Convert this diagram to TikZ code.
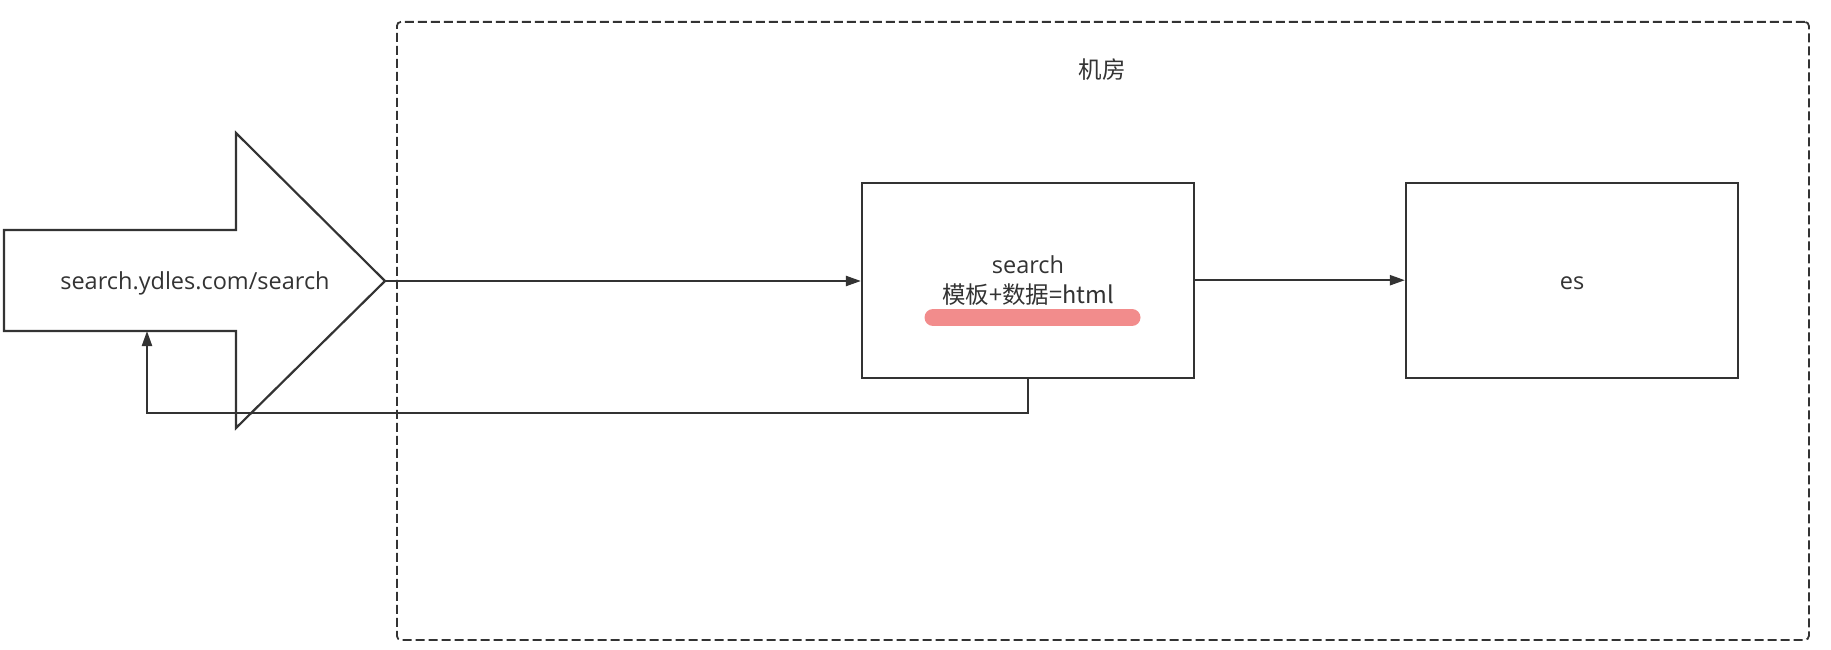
\documentclass[tikz,border=0pt]{standalone}
\usepackage{fontspec}
\setmainfont{Open Sans}
\newfontfamily\cjk{Noto Sans CJK SC}
\usetikzlibrary{arrows.meta}
\definecolor{ink}{HTML}{333333}
\definecolor{marker}{HTML}{F28C8C}
\begin{document}
\begin{tikzpicture}[x=1pt,y=-1pt,
  box/.style={draw=ink, line width=2.2pt, minimum width=332pt, minimum height=195pt,
              inner sep=0pt, align=center, text=ink,
              font=\fontsize{23.5}{30}\selectfont},
  link/.style={draw=ink, line width=2.2pt, -{Triangle[length=15pt,width=10pt]}},
  label/.style={text=ink, inner sep=0pt, font=\fontsize{23.5}{30}\selectfont},
  room/.style={draw=ink, line width=1.8pt, dash pattern=on 9pt off 4pt,
               rounded corners=4pt, inner sep=0pt, anchor=north west,
               minimum width=1412pt, minimum height=618pt}
]
\useasboundingbox (0,0) rectangle (1831,650);

% machine room boundary
\node[room] (room) at (396,21) {};
\node[label] (roomlabel) at (1102,70) {\cjk{机房}};

% incoming request: block arrow
\draw[ink, line width=2.2pt, line join=miter]
  (4,230) -- (236,230) -- (236,133) -- (385,281) -- (236,428) -- (236,331) -- (4,331) -- cycle;
\coordinate (tip) at (385,281);
\coordinate (urlfoot) at (147,331);
\node[label] (url) at (195,283) {search.ydles.com/search};

% services
\node[box] (search) at (1028,280.2) {search\\\cjk{模板}+\cjk{数据}=html};
\node[box] (es) at (1572,280.2) {};
\node[label] (eslabel) at (1572,283) {es};

% highlight under the rendering formula
\draw[marker, line width=17pt, line cap=round] (933,317.5) -- (1132,317.5);

% connectors
\draw[link] (tip) -- (tip -| search.west);
\draw[link] (search.east) -- (es.west);
\draw[link] (search.south) -- ++(0,34) -| (urlfoot);
\end{tikzpicture}
\end{document}
